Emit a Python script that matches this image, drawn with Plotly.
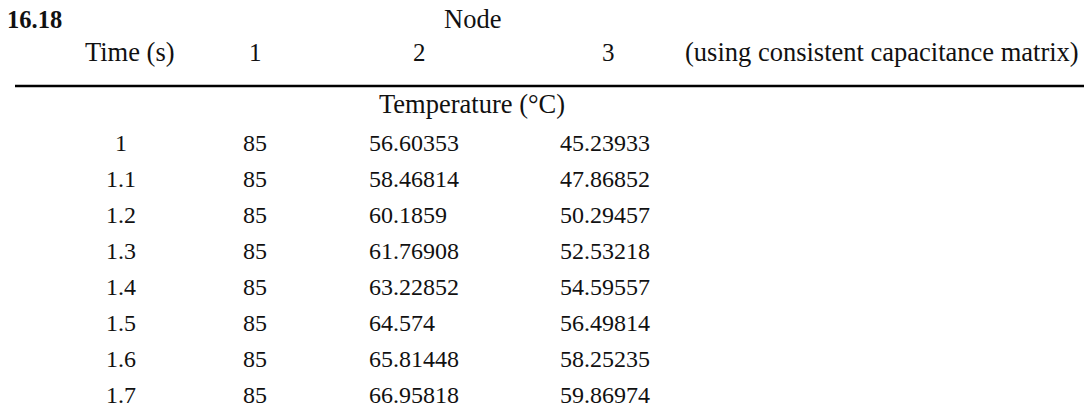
import plotly.graph_objects as go

# table data
section = "16.18"
node_label = "Node"
header_time = "Time (s)"
node_ids = ["1", "2", "3"]
note = "(using consistent capacitance matrix)"
unit_label = "Temperature (°C)"

times = [1, 1.1, 1.2, 1.3, 1.4, 1.5, 1.6, 1.7]
node1 = [85, 85, 85, 85, 85, 85, 85, 85]
node2 = [56.60353, 58.46814, 60.1859, 61.76908, 63.22852, 64.574, 65.81448, 66.95818]
node3 = [45.23933, 47.86852, 50.29457, 52.53218, 54.59557, 56.49814, 58.25235, 59.86974]

W, H = 1084, 410
FONT = "Liberation Serif"
FS_TXT = 26.5
FS_NUM = 24

fig = go.Figure()
ann = []


def txt(x, y, s, anchor="center", bold=False, size=FS_TXT):
    ann.append(dict(
        x=x, y=y, xref="x", yref="y", text=f"<b>{s}</b>" if bold else s,
        showarrow=False, xanchor=anchor, yanchor="middle",
        font=dict(family=FONT, size=size, color="#111"),
    ))


# title rows
txt(5, 19, section, anchor="left", bold=True, size=24.5)
txt(472, 19, node_label)
txt(130, 52, header_time)
for x, n in zip([255, 419, 608], node_ids):
    txt(x, 52, n, size=FS_NUM + 1)
txt(1081, 52, note, anchor="right")
txt(472, 104, unit_label)

# body rows
row0, step = 142.5, 36
for i, (t, a, b, c) in enumerate(zip(times, node1, node2, node3)):
    y = row0 + i * step
    txt(121, y, f"{t:g}", size=FS_NUM)
    txt(255, y, str(a), size=FS_NUM)
    txt(367, y, str(b), anchor="left", size=FS_NUM)
    txt(558, y, str(c), anchor="left", size=FS_NUM)

fig.add_shape(type="line", x0=15, x1=W, y0=86, y1=86, xref="x", yref="y",
              line=dict(color="black", width=2.5))

fig.update_layout(
    width=W, height=H, margin=dict(l=0, r=0, t=0, b=0),
    paper_bgcolor="white", plot_bgcolor="white",
    xaxis=dict(range=[0, W], visible=False, fixedrange=True),
    yaxis=dict(range=[H, 0], visible=False, fixedrange=True),
    annotations=ann, showlegend=False,
)

# drop the default page margin so the figure sits at the window corner
fig.write_html("out.html", config={"displayModeBar": False},
               post_script="document.body.style.margin='0';")
